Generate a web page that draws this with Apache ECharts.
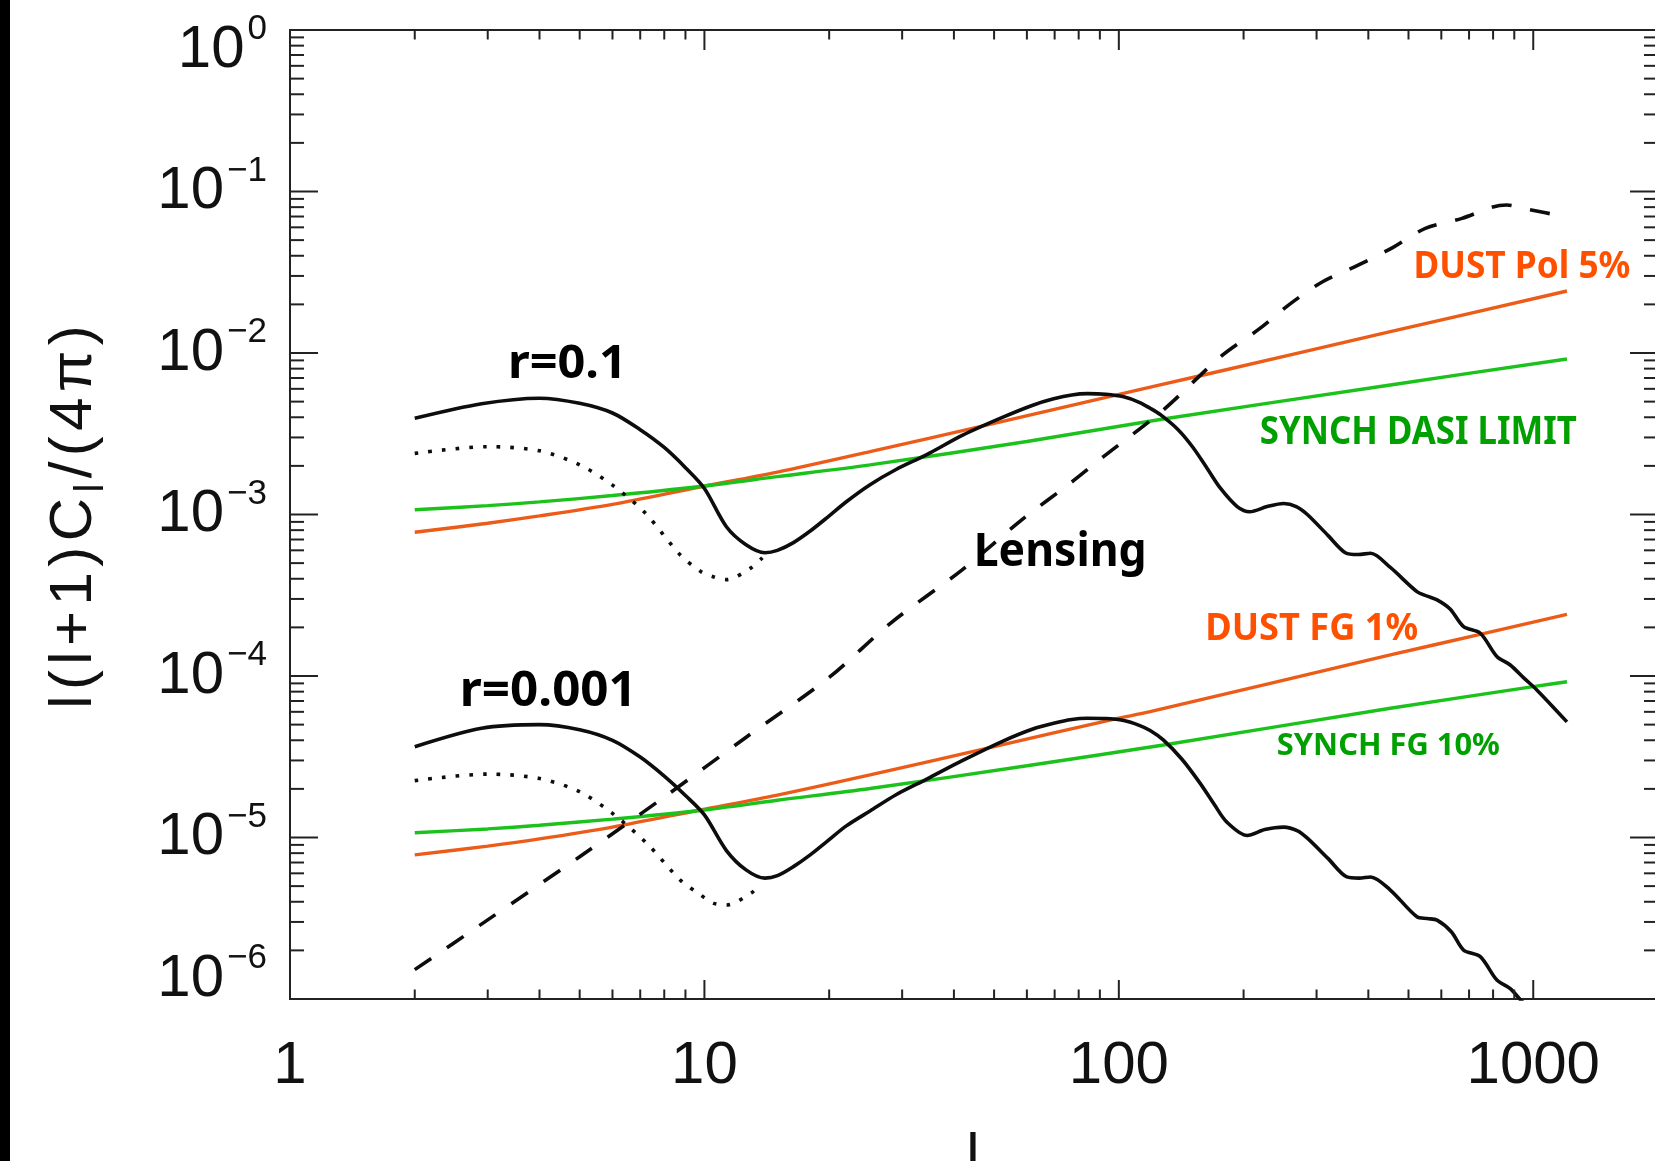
<!DOCTYPE html>
<html>
<head>
<meta charset="utf-8">
<title>B-mode power spectra and foregrounds</title>
<script src="https://cdn.jsdelivr.net/npm/echarts@6/dist/echarts.min.js"></script>
<style>
  html, body { margin: 0; padding: 0; background: #ffffff; }
  #chart { width: 1655px; height: 1161px; }
</style>
</head>
<body>
<div id="chart"></div>
<script>
// ---- Multipoles (l) and l(l+1)C_l/(4pi) values for each curve ----

// Primordial B-modes, r = 0.1 (solid)
const r01L = [2, 2.9, 4, 5, 6, 7, 8, 9, 10, 11.3, 12.6, 14, 15, 16.4, 18, 19.7, 22, 25.1, 29, 34.4, 42, 52.7, 62, 69.6, 77, 84, 93, 102.7,
  112, 119, 126, 139, 151, 164, 176, 193, 207, 228, 250, 268, 285, 320, 352, 378, 405, 452, 524, 555, 586, 630, 679, 745, 817, 880, 950, 1020, 1206];
const r01V = [3.94e-3, 4.85e-3, 5.25e-3, 4.88e-3, 4.25e-3, 3.35e-3, 2.6e-3, 1.95e-3, 1.45e-3, 8.4e-4, 6.5e-4, 5.8e-4, 6.0e-4, 6.7e-4, 7.9e-4, 9.5e-4, 1.2e-3, 1.53e-3, 1.9e-3, 2.35e-3, 3.1e-3, 4.02e-3, 4.75e-3, 5.2e-3, 5.5e-3, 5.6e-3, 5.55e-3, 5.35e-3,
  4.95e-3, 4.55e-3, 4.15e-3, 3.35e-3, 2.6e-3, 1.9e-3, 1.45e-3, 1.12e-3, 1.04e-3, 1.12e-3, 1.17e-3, 1.12e-3, 1.0e-3, 7.4e-4, 5.8e-4, 5.65e-4, 5.75e-4, 4.7e-4, 3.33e-4, 3.12e-4, 2.96e-4, 2.6e-4, 2.02e-4, 1.84e-4, 1.32e-4, 1.17e-4, 9.7e-5, 8.2e-5, 5.2e-5];

// Primordial B-modes, r = 0.1, without reionization bump (dotted)
const r01NoReionL = [2, 3, 4, 5, 6, 7.2, 8.7, 9.8, 10.5, 11.3, 12.9, 13.8];
const r01NoReionV = [2.39e-3, 2.63e-3, 2.48e-3, 2.03e-3, 1.52e-3, 1.02e-3, 5.7e-4, 4.43e-4, 4.12e-4, 3.95e-4, 4.64e-4, 5.4e-4];

// Primordial B-modes, r = 0.001 (solid)
const r001L = [2, 2.9, 4, 5, 6, 7, 8, 9, 10, 11.3, 12.6, 14, 15, 16.4, 18, 19.7, 22, 25.1, 29, 34.4, 42, 52.7, 62, 69.6, 77, 84, 93, 102.7,
  112, 119, 128, 142, 157, 170, 182, 204, 225, 250, 270, 285, 320, 355, 380, 405, 452, 524, 555, 586, 635, 679, 745, 817, 880, 931, 1000];
const r001V = [3.65e-5, 4.75e-5, 5.0e-5, 4.65e-5, 4.0e-5, 3.15e-5, 2.4e-5, 1.82e-5, 1.38e-5, 8.3e-6, 6.3e-6, 5.6e-6, 5.8e-6, 6.6e-6, 7.8e-6, 9.4e-6, 1.18e-5, 1.46e-5, 1.84e-5, 2.3e-5, 3.0e-5, 3.97e-5, 4.7e-5, 5.1e-5, 5.38e-5, 5.47e-5, 5.45e-5, 5.3e-5,
  4.95e-5, 4.6e-5, 4.02e-5, 3.05e-5, 2.17e-5, 1.6e-5, 1.25e-5, 1.03e-5, 1.12e-5, 1.16e-5, 1.1e-5, 9.9e-6, 7.4e-6, 5.7e-6, 5.6e-6, 5.7e-6, 4.73e-6, 3.23e-6, 3.15e-6, 3.08e-6, 2.6e-6, 2.01e-6, 1.83e-6, 1.31e-6, 1.16e-6, 9.9e-7, 8.3e-7];

// Primordial B-modes, r = 0.001, without reionization bump (dotted)
const r001NoReionL = [2, 3, 4, 5, 6, 7.26, 8.74, 9.8, 10.5, 11.3, 13, 13.4];
const r001NoReionV = [2.25e-5, 2.47e-5, 2.32e-5, 1.92e-5, 1.41e-5, 9.2e-6, 5.46e-6, 4.4e-6, 3.92e-6, 3.82e-6, 4.55e-6, 4.9e-6];

// Lensing B-modes (dashed)
const lensL = [2, 3, 5, 8, 12.66, 20, 28.1, 41.8, 58.9, 76.3, 91.8, 128, 176, 219, 260, 311, 379, 459, 549, 673, 794, 863, 970, 1166, 1206];
const lensV = [1.52e-6, 3.09e-6, 7.6e-6, 1.78e-5, 4.21e-5, 9.8e-5, 2.12e-4, 4.53e-4, 9.46e-4, 1.56e-3, 2.28e-3, 4.44e-3, 9.48e-3, 1.42e-2, 2.03e-2, 2.77e-2, 3.51e-2, 4.51e-2, 5.91e-2, 6.82e-2, 7.98e-2, 8.25e-2, 7.76e-2, 7.05e-2, 6.8e-2];

// Dust, 5% polarized
const dustPolL = [2, 3, 4, 6, 9.76, 15, 25.1, 50, 98.9, 160, 452, 1206];
const dustPolV = [7.76e-4, 8.83e-4, 9.8e-4, 1.156e-3, 1.48e-3, 1.83e-3, 2.45e-3, 3.67e-3, 5.5e-3, 7.31e-3, 1.355e-2, 2.42e-2];

// Synchrotron, DASI limit
const synchDasiL = [2, 3, 4, 6, 9.76, 15, 25.1, 60, 128, 452, 1206];
const synchDasiV = [1.07e-3, 1.135e-3, 1.197e-3, 1.31e-3, 1.49e-3, 1.715e-3, 2.03e-3, 2.83e-3, 3.9e-3, 6.34e-3, 9.18e-3];

// Dust foreground residual, 1%
const dustFgL = [2, 3, 4, 6, 9.76, 15, 25.1, 50, 97, 119, 452, 731, 1206];
const dustFgV = [7.8e-6, 8.85e-6, 9.8e-6, 1.16e-5, 1.48e-5, 1.83e-5, 2.44e-5, 3.65e-5, 5.39e-5, 6.01e-5, 1.35e-4, 1.79e-4, 2.41e-4];

// Synchrotron foreground residual, 10%
const synchFgL = [2, 3, 4, 6, 9.76, 15, 25.1, 60, 128.2, 452, 1000, 1206];
const synchFgV = [1.07e-5, 1.13e-5, 1.19e-5, 1.3e-5, 1.47e-5, 1.7e-5, 2.01e-5, 2.78e-5, 3.74e-5, 6.31e-5, 8.59e-5, 9.22e-5];

// Axis ticks and labels
const xMajorTicks = [1, 10, 100, 1000];
const yMajorTicks = [1e-6, 1e-5, 1e-4, 1e-3, 1e-2, 1e-1, 1];
const X_MIN = 1, X_MAX = 2000, Y_MIN = 1e-6, Y_MAX = 1;

// Curve annotations, anchored in data coordinates
const annotations = [
  { text: 'r=0.1',            l: 4.67, v: 8.43e-3, color: '#000000', cap: 33, width: 119 },
  { text: 'r=0.001',          l: 4.20, v: 7.96e-5, color: '#000000', cap: 34, width: 177 },
  { text: 'Lensing',          l: 72.2, v: 5.82e-4, color: '#000000', cap: 33, width: 173 },
  { text: 'DUST Pol 5%',      l: 939,  v: 3.38e-2, color: '#ff5000', cap: 27, width: 217 },
  { text: 'SYNCH DASI LIMIT', l: 528,  v: 3.2e-3,  color: '#00a000', cap: 28, width: 317 },
  { text: 'DUST FG 1%',       l: 292,  v: 1.95e-4, color: '#ff5000', cap: 27, width: 213 },
  { text: 'SYNCH FG 10%',     l: 447,  v: 3.65e-5, color: '#00a000', cap: 22, width: 223 }
];

// ---- helpers ----
const pairs = (ls, vs) => ls.map((l, i) => [l, vs[i]]);
const measureCtx = document.createElement('canvas').getContext('2d');
function textWidth(font, s) { measureCtx.font = font; return measureCtx.measureText(s).width; }

const LABEL_FONT = 'Liberation Sans';
const NOTE_FONT = 'Noto Sans';
const AXIS_COLOR = '#222222';
const INK = '#0d0d0d';

// Items for the axis decoration series: [l, value, kind, extra]
// kind 0 = x tick, 1 = y tick, 2 = y label, 3 = x label, 4 = annotation
const decorItems = [];
xMajorTicks.forEach(v => decorItems.push([v, 1e-3, 0, 1]));
[1, 10, 100, 1000].forEach(d => { for (let m = 2; m <= 9; m++) { if (m * d < X_MAX) decorItems.push([m * d, 1e-3, 0, 0]); } });
yMajorTicks.forEach(v => decorItems.push([10, v, 1, 1]));
for (let e = -6; e < 0; e++) { for (let m = 2; m <= 9; m++) decorItems.push([10, m * Math.pow(10, e), 1, 0]); }
yMajorTicks.forEach(v => decorItems.push([10, v, 2, 0]));
xMajorTicks.forEach(v => decorItems.push([v, 1e-3, 3, 0]));
annotations.forEach((a, i) => decorItems.push([a.l, a.v, 4, i]));

function renderDecor(params, api) {
  const cs = params.coordSys;
  const left = cs.x, right = cs.x + cs.width, top = cs.y, bottom = cs.y + cs.height;
  const kind = api.value(2);
  const extra = api.value(3);
  const p = api.coord([api.value(0), api.value(1)]);
  const stroke = { stroke: AXIS_COLOR, lineWidth: 2 };
  if (kind === 0) {
    const lb = extra ? 19 : 9.5, lt = extra ? 20 : 9.5;
    return { type: 'group', children: [
      { type: 'line', shape: { x1: p[0], y1: bottom, x2: p[0], y2: bottom - lb }, style: stroke },
      { type: 'line', shape: { x1: p[0], y1: top, x2: p[0], y2: top + lt }, style: stroke }
    ] };
  }
  if (kind === 1) {
    const len = extra ? 28 : 14;
    return { type: 'group', children: [
      { type: 'line', shape: { x1: left, y1: p[1], x2: left + len, y2: p[1] }, style: stroke },
      { type: 'line', shape: { x1: right, y1: p[1], x2: right - len, y2: p[1] }, style: stroke }
    ] };
  }
  if (kind === 2) {
    const exp = Math.round(Math.log10(api.value(1)));
    const expStr = exp < 0 ? '\u2212' + (-exp) : String(exp);
    const dy = exp === 0 ? 20 : (exp === -6 ? -20 : 0);
    return {
      type: 'text', x: left - 23, y: p[1] + dy,
      style: {
        text: '{b|10}{s|' + expStr + '}',
        align: 'right', verticalAlign: 'middle',
        rich: {
          b: { fontSize: 60, lineHeight: 76, fontFamily: LABEL_FONT, fill: '#111111' },
          s: { fontSize: 35, lineHeight: 38, verticalAlign: 'top', fontFamily: LABEL_FONT, fill: '#111111', padding: [0, 0, 0, 3] }
        }
      }
    };
  }
  if (kind === 3) {
    return {
      type: 'text', x: p[0], y: bottom + 67,
      style: { text: String(Math.round(api.value(0))), fontSize: 60, fontFamily: LABEL_FONT, fill: '#111111', align: 'center', verticalAlign: 'middle' }
    };
  }
  const a = annotations[extra];
  const fs = a.cap / 0.714;
  const sx = a.width / textWidth('bold ' + fs + 'px "' + NOTE_FONT + '"', a.text);
  return {
    type: 'text', x: p[0], y: p[1], scaleX: sx, z2: 10,
    style: { text: a.text, fontSize: fs, fontWeight: 'bold', fontFamily: NOTE_FONT, fill: a.color, align: 'center', verticalAlign: 'middle' }
  };
}

// y-axis title, spaced per character
const titleChars = ['l', '(', 'l', '+', '1', ')', 'C', '_l', '/', '(', '4', '\u03c0', ')'];
const titleTargetLen = 389;
let titleNatural = 0;
titleChars.forEach(c => {
  titleNatural += c === '_l' ? textWidth('40px "' + LABEL_FONT + '"', 'l') : textWidth('60px "' + LABEL_FONT + '"', c);
});
const titlePad = Math.max(0, (titleTargetLen - titleNatural) / titleChars.length / 2);
const titleText = titleChars.map(c => c === '_l' ? '{b|l}' : '{a|' + c + '}').join('');

const lineSeries = (name, ls, vs, color, type, width) => ({
  name, type: 'line', data: pairs(ls, vs), showSymbol: false, symbol: 'none', smooth: 0.3,
  clip: true, lineStyle: { color, width, type, cap: 'butt' }, z: 3
});

const chart = echarts.init(document.getElementById('chart'), null, { renderer: 'canvas', width: 1655, height: 1161 });
chart.setOption({
  animation: false,
  backgroundColor: '#ffffff',
  grid: {
    left: 290, top: 30, width: 1368, height: 969,
    show: true, borderColor: AXIS_COLOR, borderWidth: 2, backgroundColor: 'transparent',
    containLabel: false, outerBoundsMode: 'none'
  },
  xAxis: {
    type: 'log', logBase: 10, min: X_MIN, max: X_MAX,
    axisLine: { show: false }, axisTick: { show: false }, axisLabel: { show: false },
    splitLine: { show: false }, minorTick: { show: false }, minorSplitLine: { show: false }
  },
  yAxis: {
    type: 'log', logBase: 10, min: Y_MIN, max: Y_MAX,
    axisLine: { show: false }, axisTick: { show: false }, axisLabel: { show: false },
    splitLine: { show: false }, minorTick: { show: false }, minorSplitLine: { show: false }
  },
  graphic: [
    { type: 'rect', shape: { x: 0, y: 0, width: 10, height: 1161 }, style: { fill: '#000000' }, z: 100 },
    {
      type: 'text', x: 74, y: 517, rotation: Math.PI / 2, z: 100,
      style: {
        text: titleText, align: 'center', verticalAlign: 'middle',
        rich: {
          a: { fontSize: 60, lineHeight: 76, fontFamily: LABEL_FONT, fill: '#111111', padding: [0, titlePad, 0, titlePad] },
          b: { fontSize: 40, lineHeight: 40, verticalAlign: 'bottom', fontFamily: LABEL_FONT, fill: '#111111', padding: [0, titlePad, 0, titlePad] }
        }
      }
    },
    {
      type: 'text', x: 973, y: 1128, z: 100,
      style: { text: 'l', fontSize: 60, fontFamily: LABEL_FONT, fill: '#111111', align: 'center', verticalAlign: 'top' }
    }
  ],
  series: [
    lineSeries('DUST Pol 5%', dustPolL, dustPolV, '#ec5c18', 'solid', 3.4),
    lineSeries('SYNCH DASI LIMIT', synchDasiL, synchDasiV, '#1cc21c', 'solid', 3.4),
    lineSeries('DUST FG 1%', dustFgL, dustFgV, '#ec5c18', 'solid', 3.4),
    lineSeries('SYNCH FG 10%', synchFgL, synchFgV, '#1cc21c', 'solid', 3.4),
    lineSeries('r=0.1', r01L, r01V, INK, 'solid', 3.6),
    lineSeries('r=0.1 no reionization', r01NoReionL, r01NoReionV, INK, [3.6, 10.1], 3.6),
    lineSeries('r=0.001', r001L, r001V, INK, 'solid', 3.6),
    lineSeries('r=0.001 no reionization', r001NoReionL, r001NoReionV, INK, [3.6, 10.1], 3.6),
    lineSeries('Lensing', lensL, lensV, INK, [20, 19], 3.6),
    {
      name: 'axes', type: 'custom', renderItem: renderDecor, data: decorItems,
      encode: { x: 0, y: 1 }, clip: false, z: 5, silent: true
    }
  ]
});
</script>
</body>
</html>
